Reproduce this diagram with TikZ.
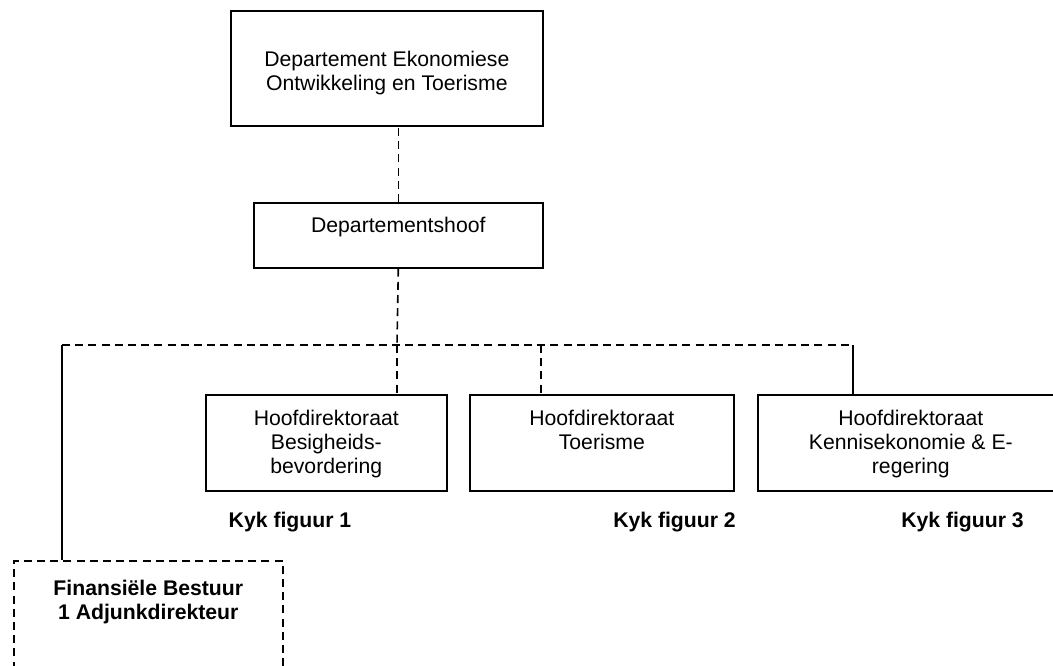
\documentclass[tikz,border=0pt]{standalone}
\usepackage{fontspec}
\setmainfont{Liberation Sans}
\begin{document}
\begin{tikzpicture}[x=0.5pt,y=-0.5pt]
        \tikzset{unitbox/.style={draw,line width=0.8pt,anchor=north west,align=center,inner xsep=0pt,inner ysep=0pt,font=\fontsize{10.6}{12}\selectfont},
                 link/.style={line width=0.8pt,dash pattern=on 4pt off 2.6pt},
                 kyk/.style={anchor=base,font=\fontsize{10.6}{12}\selectfont\bfseries}};
        \useasboundingbox (0,0) rectangle (1053,665);
        \node[unitbox,minimum width=156pt,text height=40pt,text depth=17.5pt] (dept) at (230,10) {Departement Ekonomiese\\Ontwikkeling en Toerisme};
        \node[unitbox,minimum width=144.5pt,text height=15pt,text depth=17.5pt] (hoof) at (253,202) {Departementshoof};
        \node[unitbox,minimum width=120.5pt,text height=39.5pt,text depth=8.5pt] (besig) at (205,394) {Hoofdirektoraat\\Besigheids-\\bevordering};
        \node[unitbox,minimum width=132pt,text height=27.5pt,text depth=20.5pt] (toer) at (469,394) {Hoofdirektoraat\\Toerisme};
        \node[unitbox,minimum width=153pt,text height=39.5pt,text depth=8.5pt] (kenn) at (757,394) {Hoofdirektoraat\\Kennisekonomie \& E-\\regering};
        \node[unitbox,link,minimum width=134.5pt,text height=29.5pt,text depth=40.5pt,font=\fontsize{10.6}{12}\selectfont\bfseries] (fin) at (13,560) {Finansiële Bestuur\\1 Adjunkdirekteur};
        \node[kyk] (kyk1) at (290,527) {Kyk figuur 1};
        \node[kyk] (kyk2) at (674.5,527) {Kyk figuur 2};
        \node[kyk] (kyk3) at (962.5,527) {Kyk figuur 3};
        \coordinate (busL) at (62,345);
        \coordinate (busM) at (397,345);
        \coordinate (busT) at (541,345);
        \coordinate (busR) at (853,345);
        \draw[link] (hoof.north) -- (hoof.north |- dept.south);
        \draw[link] (hoof.south) -- (busM);
        \draw[link] (busL) -- (busR);
        \draw[line width=0.8pt] (busL) -- (busL |- fin.north);
        \draw[link] (busM) -- (busM |- besig.north);
        \draw[link] (busT) -- (busT |- toer.north);
        \draw[line width=0.8pt] (busR) -- (busR |- kenn.north);
    \end{tikzpicture}
\end{document}
